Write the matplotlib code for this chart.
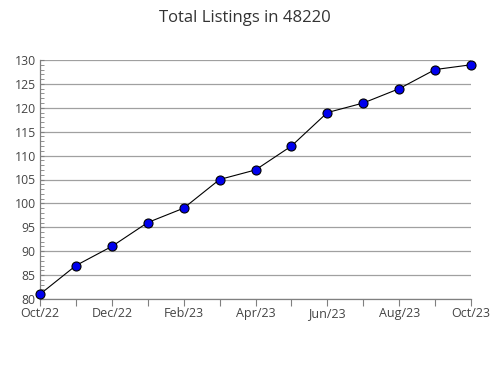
import matplotlib
matplotlib.use("Agg")
import matplotlib.pyplot as plt
from matplotlib.ticker import MultipleLocator

months = ["Oct/22", "Nov/22", "Dec/22", "Jan/23", "Feb/23", "Mar/23", "Apr/23",
          "May/23", "Jun/23", "Jul/23", "Aug/23", "Sep/23", "Oct/23"]
listings = [81, 87, 91, 96, 99, 105, 107, 112, 119, 121, 124, 128, 129]
tick_labels = ["Oct/22", "", "Dec/22", "", "Feb/23", "", "Apr/23", "",
               "Jun/23", "", "Aug/23", "", "Oct/23"]

plt.rcParams['font.family'] = ['Open Sans', 'DejaVu Sans']

fig = plt.figure(figsize=(4.9, 3.8), dpi=100)
ax = fig.add_axes([40/490, 1 - 299/380, (471-40)/490, (299-60)/380])

x = list(range(len(months)))
ax.plot(x, listings, color="black", lw=0.8, marker="o", markersize=6.5,
        markerfacecolor="#0000ee", markeredgecolor="black", markeredgewidth=0.8,
        zorder=3, clip_on=False)

ax.set_xlim(0, len(months) - 1)
ax.set_ylim(80, 130)
ax.yaxis.set_major_locator(MultipleLocator(5))
ax.yaxis.set_minor_locator(MultipleLocator(1))
ax.set_xticks(x)
ax.set_xticklabels(tick_labels)

ax.grid(axis="y", which="major", color="#a0a0a0", lw=0.9)
ax.set_axisbelow(True)
for s in ["top", "right"]:
    ax.spines[s].set_visible(False)
for s in ["left", "bottom"]:
    ax.spines[s].set_color("#808080")
    ax.spines[s].set_linewidth(0.9)

ax.tick_params(axis="y", which="both", direction="in", length=3, color="#808080",
               labelsize=8.8, labelcolor="#444444", pad=3)
ax.tick_params(axis="x", direction="out", length=5, color="#808080",
               labelsize=9.0, labelcolor="#444444", pad=0.5)

fig.suptitle("Total Listings in 48220", y=0.975, fontsize=12, color="#333333")

fig.savefig("out.png", dpi=100)
